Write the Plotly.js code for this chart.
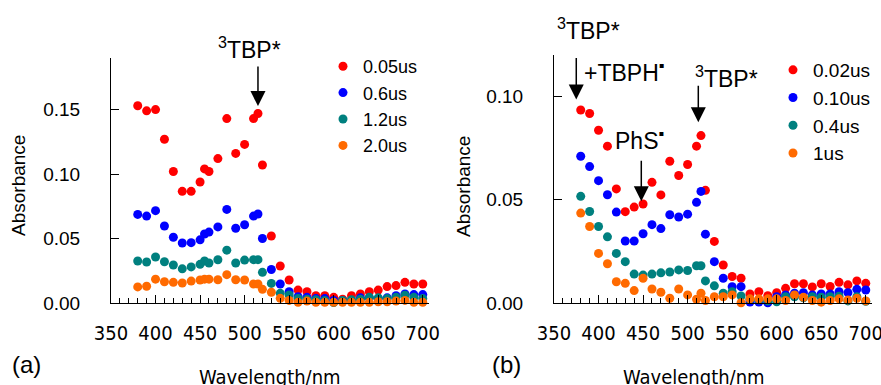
<!DOCTYPE html>
<html><head><meta charset="utf-8">
<script src="https://cdn.plot.ly/plotly-3.0.1.min.js"></script>
<style>html,body{margin:0;padding:0;background:#fff}#chart{width:881px;height:385px}</style>
</head><body><div id="chart"></div>
<script>
// ---- data: panel (a) ----
const wlA = [380,390,400,410,420,430,440,450,455,460,470,480,490,500,510,515,520,530,540,550,560,570,580,590,600,610,620,630,640,650,660,670,680,690,700];
const a005 = [0.153,0.149,0.150,0.127,0.102,0.0866,0.0866,0.0938,0.104,0.102,0.112,0.143,0.116,0.123,0.143,0.147,0.107,0.052,0.0287,0.0178,0.010,0.0088,0.0057,0.0057,0.0044,0.0029,0.0057,0.007,0.0088,0.010,0.0127,0.0135,0.016,0.0147,0.0147];
const a06  = [0.0687,0.0674,0.0716,0.0597,0.051,0.0465,0.0468,0.049,0.0535,0.055,0.059,0.0726,0.058,0.0607,0.0674,0.069,0.050,0.026,0.0147,0.0088,0.0049,0.0044,0.0034,0.0034,0.002,0.0018,0.0018,0.004,0.004,0.0034,0.004,0.0057,0.007,0.0065,0.0065];
const a12  = [0.0326,0.0318,0.0357,0.032,0.0295,0.0265,0.028,0.030,0.0326,0.031,0.0335,0.041,0.031,0.0333,0.0336,0.0336,0.0238,0.0152,0.0075,0.0062,0.0035,0.003,0.0025,0.002,0.0003,0.002,0.0025,0.003,0.0044,0.004,0.0034,0.0044,0.006,0.0044,0.0034];
const a20  = [0.0125,0.013,0.0185,0.0165,0.016,0.0155,0.017,0.0178,0.0185,0.0185,0.018,0.022,0.018,0.0178,0.0147,0.0147,0.0106,0.0083,0.0036,0.002,0.0005,0.0015,0.0005,0.0005,0.0005,0.0005,0.0005,0.0005,0.0005,0.001,0.001,0.0015,0.002,0.0005,0.0005];
// ---- data: panel (b) ----
const wlB = [380,390,400,410,420,430,440,450,460,470,480,490,500,510,515,520,530,540,550,560,570,580,590,600,610,620,630,640,650,660,670,680,690,700];
const b002 = [0.0934,0.0917,0.0836,0.0759,0.0552,0.0442,0.0464,0.0479,0.0584,0.0523,0.0686,0.0617,0.067,0.0759,0.081,0.0545,0.0298,0.0184,0.0128,0.012,0.0044,0.0055,0.0035,0.005,0.0071,0.0093,0.0093,0.0078,0.0093,0.008,0.010,0.0088,0.0107,0.0095];
const b010 = [0.071,0.066,0.0592,0.0524,0.044,0.030,0.030,0.0335,0.0379,0.036,0.0427,0.0416,0.043,0.0487,0.054,0.0333,0.020,0.012,0.0079,0.0079,0.0005,0.0005,0.0001,0.003,0.0039,0.0047,0.005,0.0039,0.0044,0.0044,0.0055,0.005,0.0066,0.0063];
const b04  = [0.0516,0.0443,0.037,0.032,0.024,0.020,0.014,0.0135,0.014,0.0146,0.015,0.016,0.0157,0.018,0.018,0.0107,0.0083,0.0047,0.0055,0.0034,0.0018,0.0015,0.001,0.0006,0.003,0.003,0.0025,0.003,0.0028,0.003,0.0033,0.001,0.003,0.0008];
const b1   = [0.0435,0.037,0.024,0.019,0.0103,0.0095,0.006,0.012,0.0068,0.0052,0.0023,0.0068,0.0039,0.0018,0.0047,0.0012,0.003,0.003,0.0039,0.0001,0.002,0.002,0.002,0.002,0.0012,0.0039,0.0028,0.0012,0.0004,0.0012,0.002,0.0015,0.0023,0.001];
const namesA = ['0.05us','0.6us','1.2us','2.0us'];
const namesB = ['0.02us','0.10us','0.4us','1us'];
const xTicks = [350,400,450,500,550,600,650,700];
const colors = ['#FF0000','#0000FF','#00807F','#FF6A00'];

const seriesA = [a005,a06,a12,a20];
const seriesB = [b002,b010,b04,b1];
const traces = [];
seriesA.forEach((s,i)=>traces.push({type:'scatter',mode:'markers',x:wlA,y:s,name:namesA[i],xaxis:'x',yaxis:'y',legend:'legend',cliponaxis:false,marker:{color:colors[i],size:9}}));
seriesB.forEach((s,i)=>traces.push({type:'scatter',mode:'markers',x:wlB,y:s,name:namesB[i],xaxis:'x2',yaxis:'y2',legend:'legend2',cliponaxis:false,marker:{color:colors[i],size:9}}));

const W=881,H=385;
const px=(v)=>v/W, py=(v)=>(H-v)/H;
const tickFont={family:'Liberation Sans, Arial, sans-serif',size:19,color:'#000'};
const xTickFont={family:'Liberation Sans Narrow, DejaVu Sans Condensed, Arial Narrow, sans-serif',size:20,color:'#000'};
function xAxis(d0,d1,anchor){return {domain:[px(d0),px(d1)],range:[350,707],anchor:anchor,showline:true,linecolor:'#000',linewidth:1,ticks:'inside',ticklen:8,tickcolor:'#000',tickvals:xTicks,ticktext:xTicks.map(String),tickfont:xTickFont,ticklabelstandoff:12,ticklabeloverflow:'allow',showgrid:false,zeroline:false,minor:{dtick:10,ticks:'inside',ticklen:5,tickcolor:'#000',showgrid:false},automargin:false};}
function yAxis(top,ymax,anchor){return {domain:[py(303),py(top)],range:[0,ymax],anchor:anchor,showline:true,linecolor:'#000',linewidth:1,ticks:'inside',ticklen:8,tickcolor:'#000',dtick:0.05,tick0:0,tickformat:'.2f',tickfont:tickFont,ticklabelstandoff:26,showgrid:false,zeroline:false,automargin:false};}

const annFont={family:'Liberation Sans, Arial, sans-serif',size:23,color:'#000'};
const titleFont={family:'Liberation Sans Narrow, DejaVu Sans Condensed, sans-serif',size:20,color:'#000'};
const yTitleFont={family:'Liberation Sans, Arial, sans-serif',size:19,color:'#000'};
const dot='<sup>▪</sup>';
function arrow(xr,yr,x,y,ay){return {xref:xr,yref:yr,x:x,y:y,ax:0,ay:ay,text:'',showarrow:true,arrowhead:2,arrowsize:2,arrowwidth:1.5,arrowcolor:'#000'};}
function txt(x,y,t,font,anchor){return {xref:'paper',yref:'paper',x:px(x),y:py(y),text:t,showarrow:false,font:font||annFont,xanchor:anchor||'left',yanchor:'middle'};}

const layout={
  width:W,height:H,margin:{l:0,r:0,t:0,b:0},paper_bgcolor:'#fff',plot_bgcolor:'rgba(0,0,0,0)',
  xaxis:xAxis(111,429,'y'),yaxis:yAxis(58,0.19,'x'),
  xaxis2:xAxis(554,872,'y2'),yaxis2:yAxis(55,0.12,'x2'),
  legend:{x:px(323),y:py(48),xanchor:'left',yanchor:'top',font:{family:'Liberation Sans, Arial, sans-serif',size:18,color:'#000'},bgcolor:'rgba(0,0,0,0)'},
  legend2:{x:px(773),y:py(51),xanchor:'left',yanchor:'top',font:{family:'Liberation Sans, Arial, sans-serif',size:19,color:'#000'},bgcolor:'rgba(0,0,0,0)'},
  annotations:[
    txt(18,186,'Absorbance',yTitleFont,'center'),
    txt(463,186,'Absorbance',yTitleFont,'center'),
    txt(270,377,'Wavelength/nm',titleFont,'center'),
    txt(694,377,'Wavelength/nm',titleFont,'center'),
    txt(10,364,'(a)',{family:'Liberation Sans, Arial, sans-serif',size:24,color:'#000'}),
    txt(490,364,'(b)',{family:'Liberation Sans, Arial, sans-serif',size:24,color:'#000'}),
    txt(216,48,'<sup>3</sup>TBP*'),
    arrow('x','y',515,0.1527,-41),
    txt(555,29,'<sup>3</sup>TBP*'),
    txt(582,71,'+TBPH'+dot),
    arrow('x2','y2',375,0.0985,-43),
    txt(613,139,'PhS'+dot),
    arrow('x2','y2',448,0.0492,-42),
    txt(693,77,'<sup>3</sup>TBP*'),
    arrow('x2','y2',512,0.0874,-38)
  ]
};
layout.annotations[0].textangle=-90;
layout.annotations[1].textangle=-90;
Plotly.newPlot('chart',traces,layout,{staticPlot:true,displayModeBar:false});
</script></body></html>
